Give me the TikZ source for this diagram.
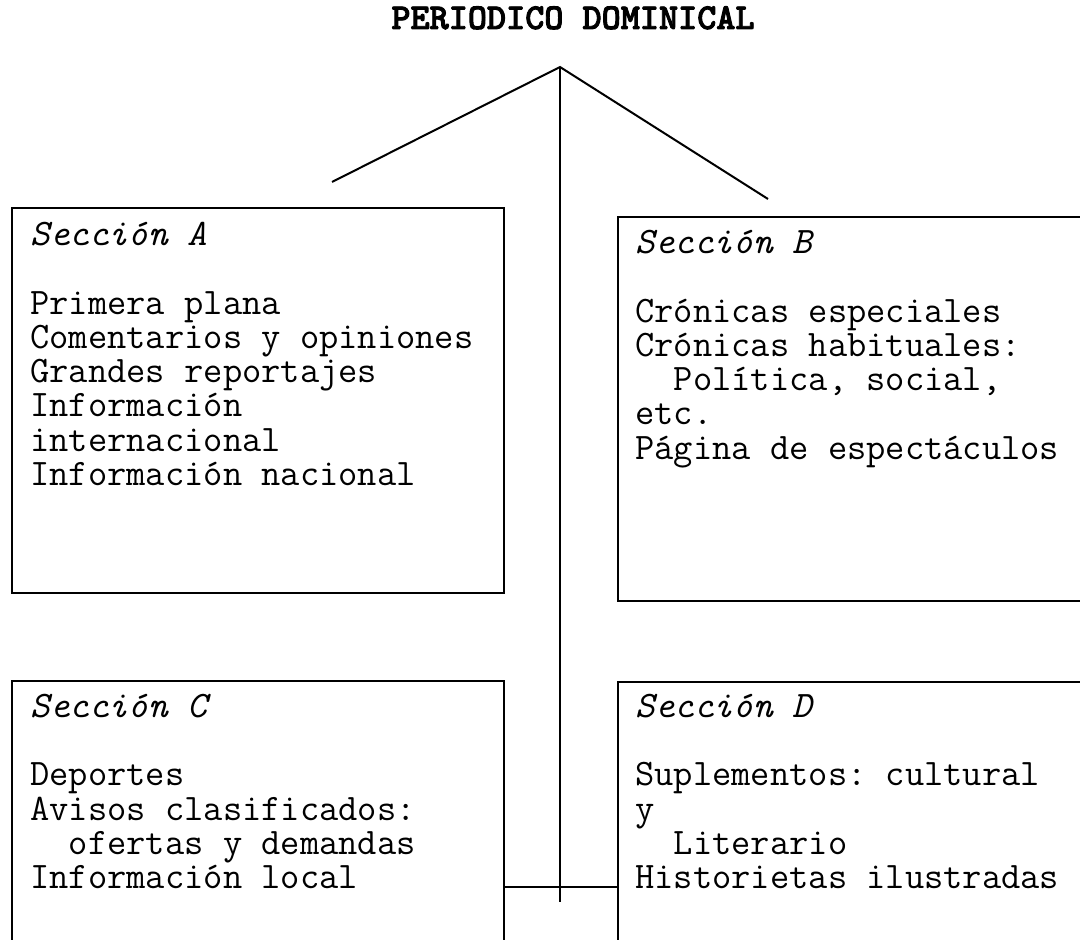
\documentclass[tikz,border=0pt]{standalone}
\usepackage{fontspec}
\newfontfamily\titlefont{lmmonolt10-bold.otf}[FakeBold=2.5]
\begin{document}
\frenchspacing
\begin{tikzpicture}[x=0.5pt,y=-0.5pt,
  box/.style={draw, line width=1pt, anchor=north west, inner sep=0pt},
  txt/.style={anchor=north west, inner sep=0pt, align=left,
    font=\ttfamily\frenchspacing\fontsize{18.7}{17.15}\selectfont},
  conn/.style={line width=1pt}]
\useasboundingbox (0,0) rectangle (1080,940);
\clip (0,0) rectangle (1080,940);
\fill[white] (0,0) rectangle (1080,940);
% title
\node[anchor=base, inner sep=0pt, font=\titlefont\fontsize{18.2}{19}\selectfont] (T) at (573,29) {PERIODICO DOMINICAL};
% boxes
\node[box, minimum width=246pt, minimum height=192.5pt] (A) at (11,207) {};
\node[box, minimum width=240pt, minimum height=192pt] (B) at (616.5,216) {};
\node[box, minimum width=246pt, minimum height=140pt] (C) at (11,680) {};
\node[box, minimum width=240pt, minimum height=140pt] (D) at (616.5,681) {};
% texts
\node[txt] (tA) at (30,221) {\strut\textit{Sección A}\\ \mbox{}\\ Primera plana\\ Comentarios y opiniones\\ Grandes reportajes\\ Información\\ internacional\\ Información nacional};
\node[txt] (tB) at (635,229) {\strut\textit{Sección B}\\ \mbox{}\\ Crónicas especiales\\ Crónicas habituales:\\ \phantom{xx}Política, social,\\ etc.\\ Página de espectáculos};
\node[txt] (tC) at (30,692.7) {\strut\textit{Sección C}\\ \mbox{}\\ Deportes\\ Avisos clasificados:\\ \phantom{xx}ofertas y demandas\\ Información local};
\node[txt] (tD) at (635,692.7) {\strut\textit{Sección D}\\ \mbox{}\\ Suplementos: cultural\\ y\\ \phantom{xx}Literario\\ Historietas ilustradas};
% connectors
\coordinate (apex) at (560,67);
\coordinate (le) at (332,182);
\coordinate (re) at (768,199);
\coordinate (vb) at (560,902);
\coordinate (hl) at (560,887);
\draw[conn] (le) -- (apex) -- (re);
\draw[conn] (apex) -- (vb);
\draw[conn] (C.east |- hl) -- (D.west |- hl);
\end{tikzpicture}
\end{document}
